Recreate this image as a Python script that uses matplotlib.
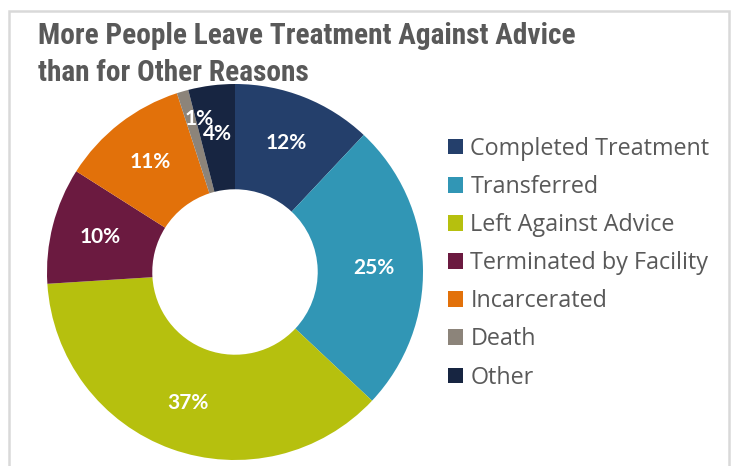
import matplotlib
matplotlib.use("Agg")
import matplotlib.pyplot as plt
from matplotlib.patches import Rectangle
import numpy as np

categories = ["Completed Treatment", "Transferred", "Left Against Advice",
              "Terminated by Facility", "Incarcerated", "Death", "Other"]
values = [12, 25, 37, 10, 11, 1, 4]
colors = ["#243F6B", "#3196B5", "#B6C00E", "#6B1A40", "#E2710A", "#8C847A", "#172541"]
title = "More People Leave Treatment Against Advice\nthan for Other Reasons"

W, H = 731, 466
fig = plt.figure(figsize=(W / 100, H / 100), dpi=100)

cond = ["Roboto Condensed", "Lato"]

# light border
fig.patches.append(Rectangle((9 / W, -0.1), (729 - 9) / W, (H - 11) / H + 0.1,
                             transform=fig.transFigure, fill=False,
                             edgecolor="#D9D9D9", linewidth=1.8))

cx, cy, r = 235, 272, 188
ax = fig.add_axes([(cx - r) / W, (H - cy - r) / H, 2 * r / W, 2 * r / H])
wedges, _ = ax.pie(values, colors=colors, startangle=90, counterclock=False,
                   radius=1, wedgeprops=dict(width=0.56, linewidth=0))
ax.set_xlim(-1, 1)
ax.set_ylim(-1, 1)
ax.set_aspect("equal")
ax.axis("off")

cum = 0
offsets = {5: (0.016, 0.103)}
for i, v in enumerate(values):
    mid = 90 - (cum + v / 2) / sum(values) * 360
    cum += v
    x = 0.74 * np.cos(np.radians(mid))
    y = 0.74 * np.sin(np.radians(mid))
    dx, dy = offsets.get(i, (0, 0))
    ax.text(x + dx, y + dy, f"{v}%", ha="center", va="center", color="white",
            fontsize=15, fontweight="bold", family="Lato")

line1, line2 = title.split("\n")
fig.text(38 / W, 1 - 44 / H, line1, ha="left", va="baseline",
         color="#595959", fontsize=21.2, fontweight="bold", family=cond)
fig.text(38 / W, 1 - 81 / H, line2, ha="left", va="baseline",
         color="#595959", fontsize=21.2, fontweight="bold", family=cond)

fig.legend(wedges, categories, loc="upper left",
           bbox_to_anchor=(439 / W, 1 - 127.5 / H), frameon=False,
           labelcolor="#595959", handlelength=0.65, handleheight=0.65,
           handletextpad=0.3, labelspacing=0.605, borderaxespad=0,
           prop=dict(family="Open Sans", size=16.8))

fig.savefig("out.png", dpi=100)
